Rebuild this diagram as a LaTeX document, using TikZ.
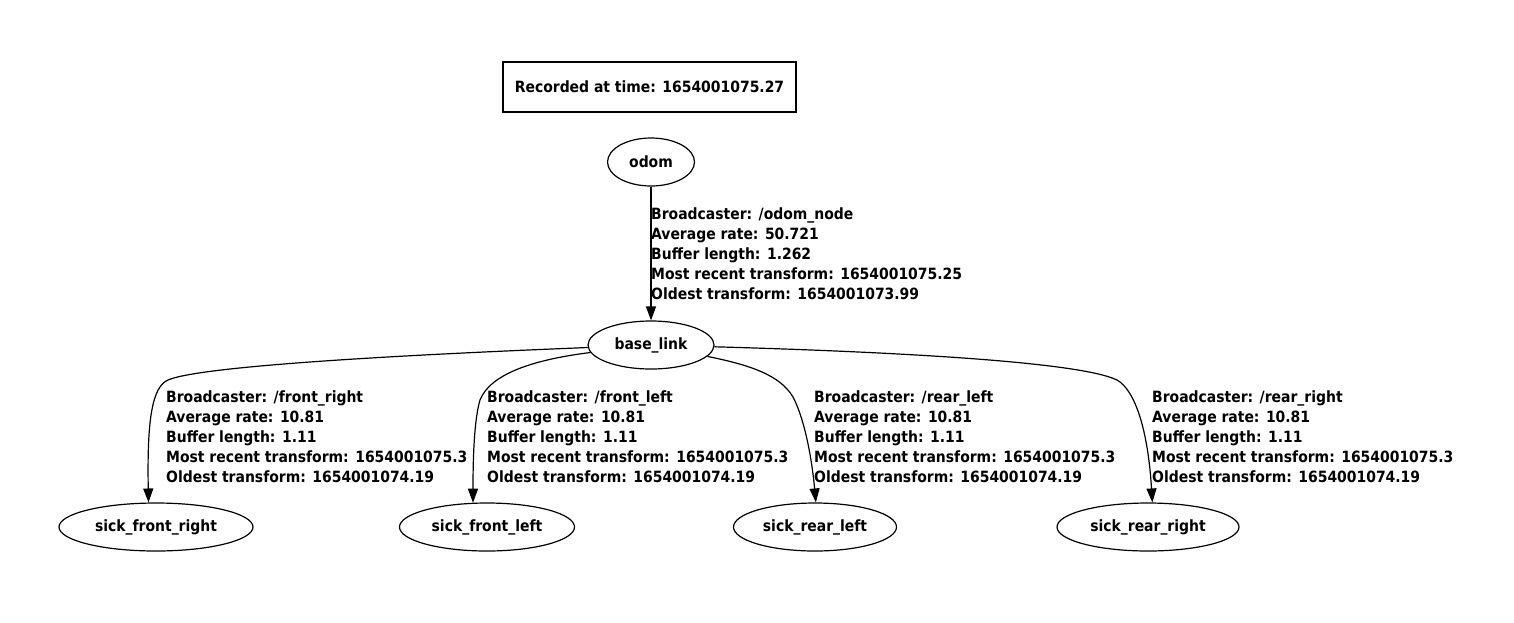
\documentclass[tikz,border=0pt]{standalone}
\usepackage{fontspec}
\setmainfont{DejaVu Sans Condensed}
\usetikzlibrary{shapes.geometric,arrows.meta}
\definecolor{tfink}{HTML}{000000}
\newcommand{\tfinfo}[5]{Broadcaster: #1\\Average rate: #2\\Buffer length: #3\\Most recent transform: #4\\Oldest transform: #5}

\begin{document}
\begin{tikzpicture}[x=1pt, y=-1pt,
  every node/.style={font=\fontsize{15.5}{20}\selectfont\bfseries, text=tfink},
  stampbox/.style={draw=tfink, line width=1.2pt, rectangle, minimum width=293pt, minimum height=50pt},
  frame/.style={draw=tfink, line width=1.2pt, ellipse, inner sep=0pt, minimum height=48pt},
  tflabel/.style={align=left, anchor=west, inner sep=0pt},
  tfedge/.style={draw=tfink, line width=1.2pt, -{Triangle[length=14pt, width=10pt]}}]

  \useasboundingbox (0,0) rectangle (1514,622);

  \node[stampbox] (stamp) at (649.5,87) {Recorded at time: 1654001075.27};

  \node[frame, minimum width=87pt]  (odom) at (651,162) {odom};
  \node[frame, minimum width=126pt] (base) at (651,345) {base\_link};

  \node[frame, minimum width=194pt] (sfr) at (156,527) {sick\_front\_right};
  \node[frame, minimum width=175pt] (sfl) at (487,527) {sick\_front\_left};
  \node[frame, minimum width=163pt] (srl) at (815,527) {sick\_rear\_left};
  \node[frame, minimum width=182pt] (srr) at (1148,527) {sick\_rear\_right};

  % transforms
  \draw[tfedge] (odom) -- (base);
  \draw[tfedge] (base) .. controls (400,355) and (200,366) .. (168,380)
    .. controls (152,387) and (147,420) .. (sfr.107);
  \draw[tfedge] (base) .. controls (530,360) and (490,375) .. (480,400)
    .. controls (474,420) and (473,460) .. (sfl.120);
  \draw[tfedge] (base) .. controls (750,365) and (780,375) .. (793,397)
    .. controls (805,420) and (812,460) .. (srl.88);
  \draw[tfedge] (base) .. controls (900,352) and (1080,362) .. (1117,380)
    .. controls (1135,390) and (1148,430) .. (srr.80);

  \node[tflabel] (lodom) at (651,254) {\tfinfo{/odom\_node}{50.721}{1.262}{1654001075.25}{1654001073.99}};
  \node[tflabel] (lsfr) at (166,437) {\tfinfo{/front\_right}{10.81}{1.11}{1654001075.3}{1654001074.19}};
  \node[tflabel] (lsfl) at (487,437) {\tfinfo{/front\_left}{10.81}{1.11}{1654001075.3}{1654001074.19}};
  \node[tflabel] (lsrl) at (814,437) {\tfinfo{/rear\_left}{10.81}{1.11}{1654001075.3}{1654001074.19}};
  \node[tflabel] (lsrr) at (1152,437) {\tfinfo{/rear\_right}{10.81}{1.11}{1654001075.3}{1654001074.19}};

\end{tikzpicture}
\end{document}
